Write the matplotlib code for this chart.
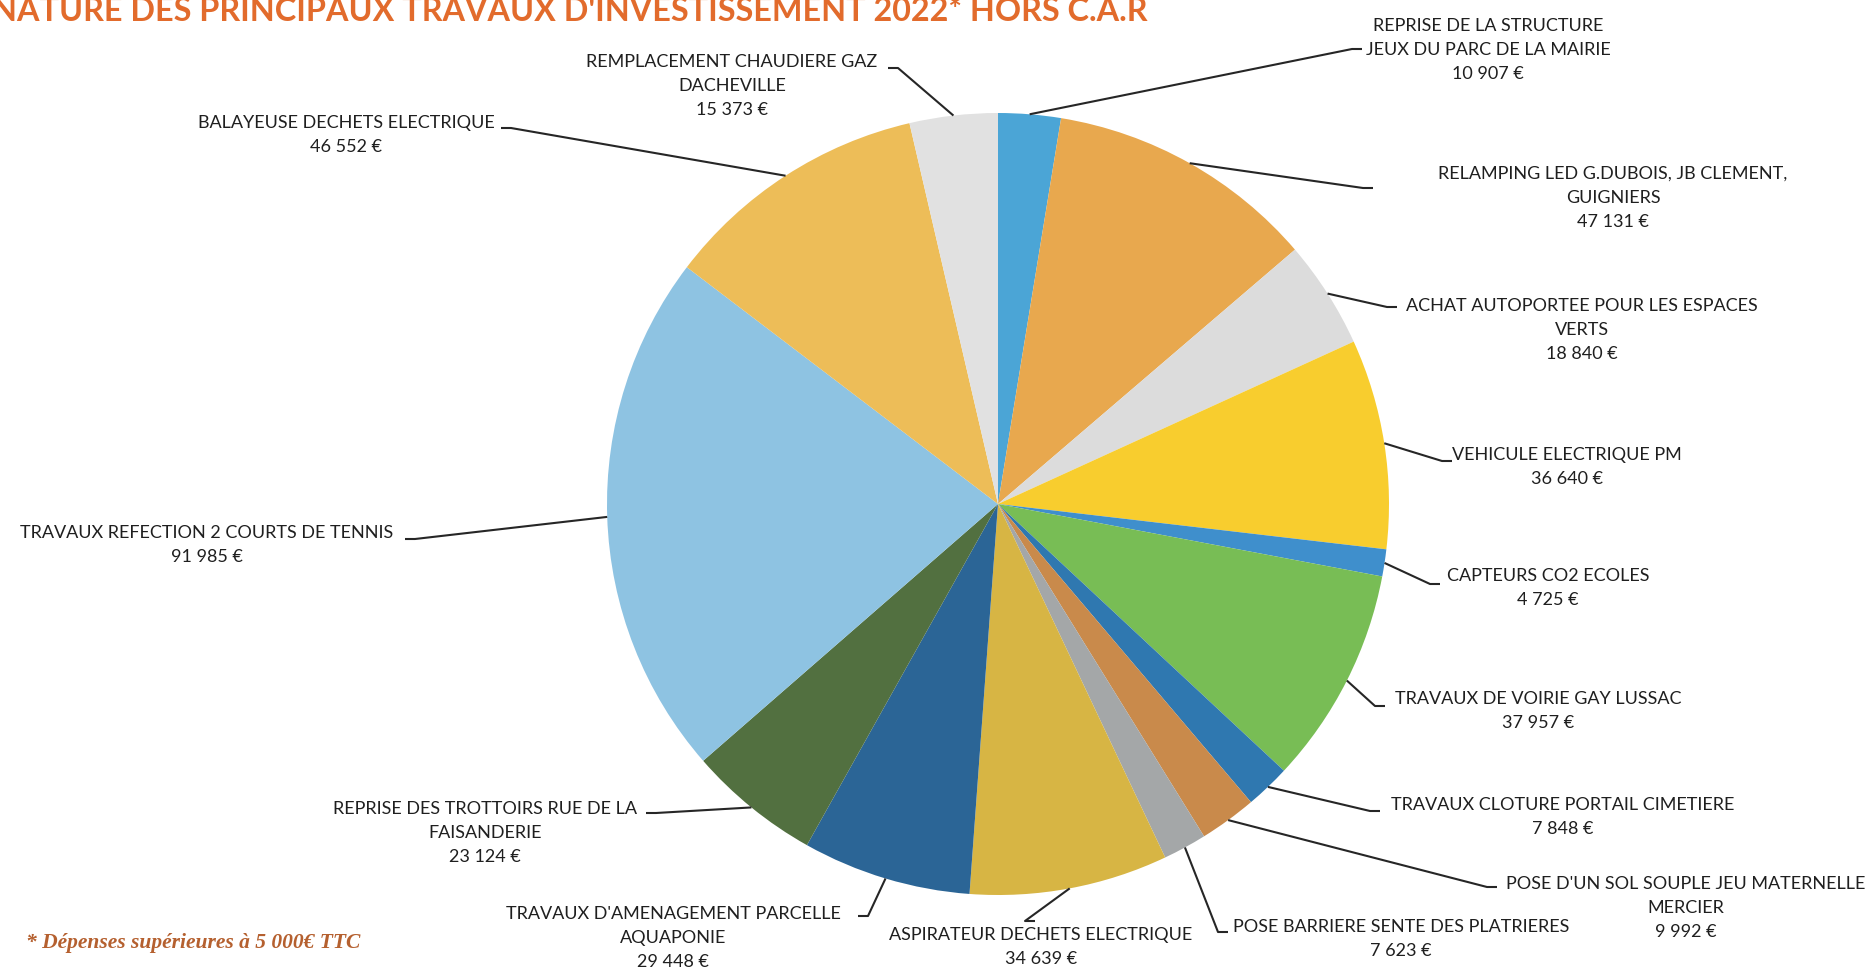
import matplotlib
matplotlib.use('Agg')
import matplotlib.pyplot as plt
import math

# montants des travaux d'investissement 2022, dans l'ordre du camembert (sens horaire depuis midi)
intitules = [
    "REPRISE DE LA STRUCTURE\nJEUX DU PARC DE LA MAIRIE",
    "RELAMPING LED G.DUBOIS, JB CLEMENT,\nGUIGNIERS",
    "ACHAT AUTOPORTEE POUR LES ESPACES\nVERTS",
    "VEHICULE ELECTRIQUE PM",
    "CAPTEURS CO2 ECOLES",
    "TRAVAUX DE VOIRIE GAY LUSSAC",
    "TRAVAUX CLOTURE PORTAIL CIMETIERE",
    "POSE D'UN SOL SOUPLE JEU MATERNELLE\nMERCIER",
    "POSE BARRIERE SENTE DES PLATRIERES",
    "ASPIRATEUR DECHETS ELECTRIQUE",
    "TRAVAUX D'AMENAGEMENT PARCELLE\nAQUAPONIE",
    "REPRISE DES TROTTOIRS RUE DE LA\nFAISANDERIE",
    "TRAVAUX REFECTION 2 COURTS DE TENNIS",
    "BALAYEUSE DECHETS ELECTRIQUE",
    "REMPLACEMENT CHAUDIERE GAZ\nDACHEVILLE",
]
montants = [10907, 47131, 18840, 36640, 4725, 37957, 7848, 9992,
            7623, 34639, 29448, 23124, 91985, 46552, 15373]
couleurs = ['#4BA5D6', '#E8A84E', '#DCDCDC', '#F8CD2E', '#3F8FCC',
            '#78BD55', '#2F78B0', '#C98A4B', '#A4A7A8', '#D7B544',
            '#2B6596', '#527040', '#8EC3E2', '#EDBD58', '#E1E1E1']

# placement des etiquettes (pixels depuis le coin haut gauche)
etiq_x = [1488, 1613, 1582, 1567, 1548, 1538, 1563, 1686, 1401, 1041, 673, 485, 207, 346, 732]
etiq_y = [50, 198, 330, 467, 588, 711, 817, 908, 939, 947, 938, 833, 545, 135, 86]
fin_x = [1362, 1373, 1397, 1452, 1440, 1385, 1380, 1497, 1228, 1035, 858, 646, 405, 501, 888]
fin_y = [49, 188, 307, 461, 584, 706, 811, 887, 932, 921, 916, 813, 539, 128, 68]

W, H = 1869, 972
fig = plt.figure(figsize=(W / 100, H / 100), dpi=100)
ax = fig.add_axes([0, 0, 1, 1])

cx, cy, r = 998, H - 504, 391
parts = ax.pie(montants, colors=couleurs, startangle=90, counterclock=False,
               radius=r, center=(cx, cy))
wedges = parts[0]
ax.set_xlim(0, W)
ax.set_ylim(0, H)
ax.set_aspect('equal')
ax.axis('off')

police = ['Lato', 'DejaVu Sans']
gris = '#1f1f1f'
for i, w in enumerate(wedges):
    # trait de rappel depuis le bord de la part, au milieu de son angle
    a = math.radians((w.theta1 + w.theta2) / 2)
    x0, y0 = cx + r * math.cos(a), cy + r * math.sin(a)
    fx, fy = fin_x[i], H - fin_y[i]
    if abs(fx - x0) < 15:
        xs, ys = [x0, fx], [y0, fy]
    else:
        sens = 1 if fx > cx else -1
        xs, ys = [x0, fx - sens * 10, fx], [y0, fy, fy]
    ax.plot(xs, ys, color='#262626', lw=1.5, solid_capstyle='butt')
    txt = intitules[i] + "\n" + f"{montants[i]:,}".replace(",", " ") + " €"
    ax.text(etiq_x[i], H - etiq_y[i], txt, ha='center', va='center',
            fontsize=13, family=police, color=gris, linespacing=1.65)

fig.text(-8 / W, 1 - 21 / H, "NATURE DES PRINCIPAUX TRAVAUX D'INVESTISSEMENT 2022* HORS C.A.R",
         ha='left', va='baseline', fontsize=23.3, fontweight='bold',
         family=['Lato', 'DejaVu Sans'], color='#E26B2C')
fig.text(26 / W, 1 - 948 / H, "* Dépenses supérieures à 5 000€ TTC",
         ha='left', va='baseline', fontsize=15.5, fontweight='bold', fontstyle='italic',
         family=['Liberation Serif', 'DejaVu Serif'], color='#B5602F')

fig.savefig('out.png', dpi=100, facecolor='white')
